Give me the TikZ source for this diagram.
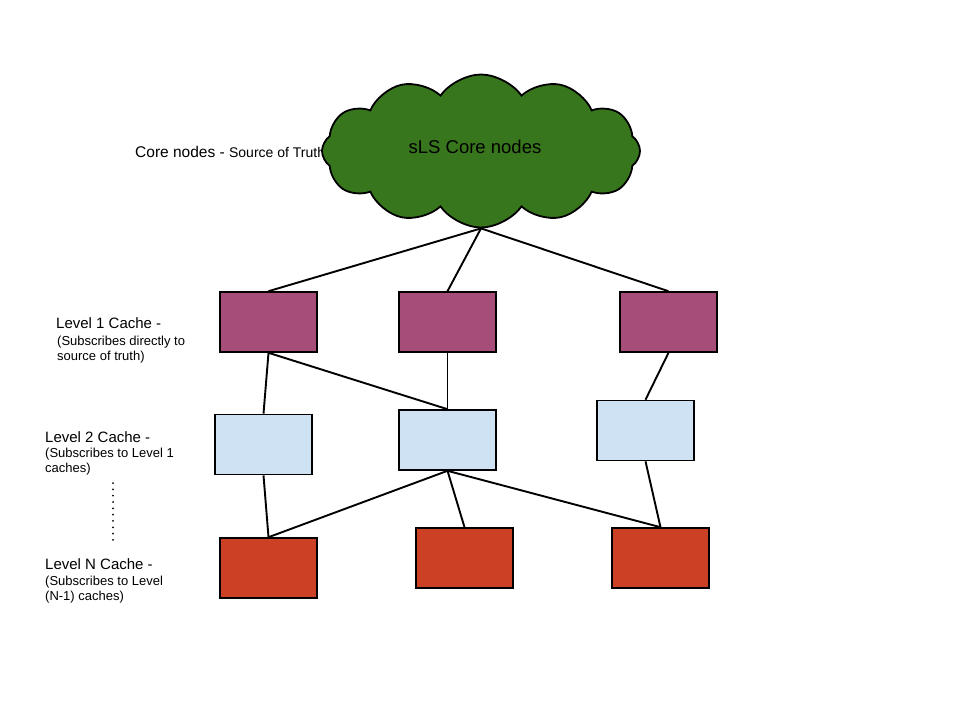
\documentclass[tikz,border=0pt]{standalone}
\usepackage{fontspec}
\setmainfont{Liberation Sans}
\usetikzlibrary{shapes.symbols}
\pgfdeclarelayer{bg}
\pgfsetlayers{bg,main}
\definecolor{coregreen}{HTML}{38761D}
\definecolor{lonepurple}{HTML}{A64D79}
\definecolor{ltwoblue}{HTML}{CFE2F3}
\definecolor{lnred}{HTML}{CC4125}
\tikzset{cache/.style={draw, line width=1.6pt, minimum width=97pt, minimum height=60pt, inner sep=0pt},
    head/.style={anchor=base west, inner sep=0pt, font=\fontsize{15}{18}\selectfont},
    sub/.style={anchor=north west, inner sep=0pt, align=left, font=\fontsize{13}{15}\selectfont},
    link/.style={line width=1.9pt}}

\begin{document}
\begin{tikzpicture}[x=1pt, y=-1pt]
    \useasboundingbox (0,0) rectangle (960,720);

    \node (coretxt) [anchor=base west, inner sep=0pt] at (135,157) {{\fontsize{15.5}{18}\selectfont Core nodes - }{\fontsize{14}{16}\selectfont Source of Truth}};

    \node (core) at (481,151) [cloud, cloud puffs=12, cloud puff arc=110, aspect=2, draw, line width=1.8pt, fill=coregreen, minimum width=318pt, minimum height=153pt, inner sep=0pt] {};
    \node (corelabel) at (475,147) [font=\fontsize{18.5}{20}\selectfont] {sLS Core nodes};

    \node (lvlone) [head] at (56,328) {Level 1 Cache -};
    \node (lvlonesub) [sub] at (57,335.5) {(Subscribes directly to\\source of truth)};
    \node (lvltwo) [head] at (45,442) {Level 2 Cache -};
    \node (lvltwosub) [sub] at (45,447.5) {(Subscribes to Level 1\\caches)};
    \node (lvln) [head] at (45,569) {Level N Cache -};
    \node (lvlnsub) [sub] at (45,576) {(Subscribes to Level\\(N-1) caches)};

    \coordinate (dottop) at (113,483);
    \coordinate (dotbot) at (113,540);
    \draw [line width=2pt, line cap=round, dash pattern=on 0pt off 6.33pt] (dottop) -- (dotbot);

    \node (l1a) at (268.5,322) [cache, fill=lonepurple] {};
    \node (l1b) at (447.5,322) [cache, fill=lonepurple] {};
    \node (l1c) at (668.5,322) [cache, fill=lonepurple] {};

    \node (l2a) at (263.5,444.5) [cache, fill=ltwoblue] {};
    \node (l2b) at (447.5,440) [cache, fill=ltwoblue] {};
    \node (l2c) at (645.5,430.5) [cache, fill=ltwoblue] {};

    \node (lna) at (268.5,568) [cache, fill=lnred] {};
    \node (lnb) at (464.5,558) [cache, fill=lnred] {};
    \node (lnc) at (660.5,558) [cache, fill=lnred] {};

    \begin{pgfonlayer}{bg}
        \draw [link] (core.south) edge (l1a.north);
        \draw [link] (core.south) edge (l1b.north);
        \draw [link] (core.south) edge (l1c.north);

        \draw [link] (l1a.south) edge (l2a.north);
        \draw [link] (l1a.south) edge (l2b.north);
        \draw [link] (l1b.south) edge (l2b.north);
        \draw [link] (l1c.south) edge (l2c.north);

        \draw [link] (l2a.south) edge (lna.north);
        \draw [link] (l2b.south) edge (lna.north);
        \draw [link] (l2b.south) edge (lnb.north);
        \draw [link] (l2b.south) edge (lnc.north);
        \draw [link] (l2c.south) edge (lnc.north);
    \end{pgfonlayer}
\end{tikzpicture}
\end{document}
